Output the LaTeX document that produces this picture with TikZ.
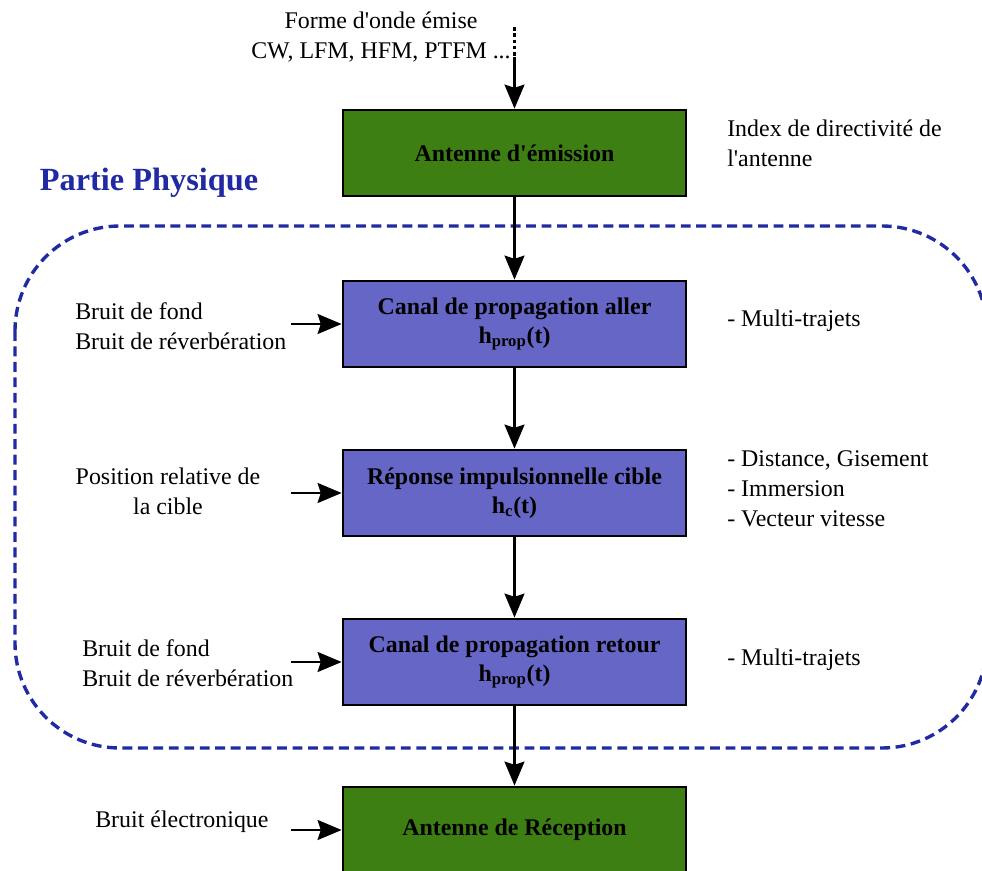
\documentclass[tikz,border=0pt]{standalone}
\usepackage{fontspec}
\setmainfont{Liberation Serif}[Ligatures=TeXOff]
\usetikzlibrary{arrows.meta}

\definecolor{boxgreen}{RGB}{62,127,20}
\definecolor{boxblue}{RGB}{102,102,198}
\definecolor{physblue}{RGB}{32,42,162}

\tikzset{
  txt/.style={inner sep=0pt, font=\fontsize{17}{21.3}\selectfont},
  antenna/.style={draw, line width=2pt, fill=boxgreen, minimum width=8.575cm, minimum height=2.15cm, align=center, font=\fontsize{17}{20.5}\selectfont\bfseries},
  channel/.style={antenna, fill=boxblue},
  flow/.style={line width=1.6pt, -{Stealth[length=0.6cm, width=0.5cm, inset=0.08cm]}},
  frame/.style={physblue, line width=2.4pt, dash pattern=on 7pt off 4pt, rounded corners=2.625cm},
}

\begin{document}
\begin{tikzpicture}
	\useasboundingbox (0,0) rectangle (24.55,-21.775);

	% zone physique
	\draw[frame] (0.375,-5.65) rectangle (24.675,-18.7);

	\node[antenna] (emission) at (12.8625,-3.825) {Antenne d'émission};
	\node[channel, below of=emission, node distance=4.275cm] (aller) {Canal de propagation aller\\h\textsubscript{prop}(t)};
	\node[channel, below of=aller, node distance=4.225cm] (cible) {Réponse impulsionnelle cible\\h\textsubscript{c}(t)};
	\node[channel, below of=cible, node distance=4.225cm] (retour) {Canal de propagation retour\\h\textsubscript{prop}(t)};
	\node[antenna, below of=retour, node distance=4.2cm] (reception) {Antenne de Réception};

	\node[left of=emission, node distance=9.1375cm, yshift=-0.75cm, text=physblue, font=\fontsize{23}{28}\selectfont\bfseries] (partie) {Partie Physique};

	% forme d'onde
	\coordinate[above of=emission, node distance=3.15cm] (src);
	\coordinate[above of=emission, node distance=2.4cm] (srcb);
	\node[txt, align=center, left of=src, node distance=3.3375cm, yshift=-0.2625cm] (forme) {Forme d'onde émise\\CW, LFM, HFM, PTFM ...};

	\draw[line width=1.5pt, dash pattern=on 2.5pt off 2pt] (src) -- (srcb);
	\draw[flow] (srcb) -- (emission);
	\draw[flow] (emission) -- (aller);
	\draw[flow] (aller) -- (cible);
	\draw[flow] (cible) -- (retour);
	\draw[flow] (retour) -- (reception);

	% entrees a gauche
	\coordinate[left of=aller, node distance=5.5875cm] (in1);
	\coordinate[left of=cible, node distance=5.5875cm] (in2);
	\coordinate[left of=retour, node distance=5.5875cm] (in3);
	\coordinate[left of=reception, node distance=5.5875cm] (in4);

	\draw[flow] (in1) -- (aller);
	\draw[flow] (in2) -- (cible);
	\draw[flow] (in3) -- (retour);
	\draw[flow] (in4) -- (reception);

	\node[txt, align=left, left of=aller, node distance=10.9875cm, anchor=west, yshift=-0.05cm] (bruit1) {Bruit de fond\\Bruit de réverbération};
	\node[txt, align=center, left of=cible, node distance=8.6625cm, yshift=0.05cm] (position) {Position relative de\\la cible};
	\node[txt, align=left, left of=retour, node distance=10.8125cm, anchor=west, yshift=-0.025cm] (bruit2) {Bruit de fond\\Bruit de réverbération};
	\node[txt, left of=reception, node distance=10.4875cm, anchor=west, yshift=0.2cm] (elec) {Bruit électronique};

	% parametres a droite
	\node[txt, align=left, right of=emission, node distance=5.3125cm, anchor=west, yshift=0.2375cm] (index) {Index de directivité de\\l'antenne};
	\node[txt, right of=aller, node distance=5.3125cm, anchor=west, yshift=0.075cm] (trajets1) {- Multi-trajets};
	\node[txt, align=left, right of=cible, node distance=5.3125cm, anchor=west, yshift=0.1cm] (params) {- Distance, Gisement\\- Immersion\\- Vecteur vitesse};
	\node[txt, right of=retour, node distance=5.3125cm, anchor=west, yshift=0.05cm] (trajets2) {- Multi-trajets};
\end{tikzpicture}
\end{document}
